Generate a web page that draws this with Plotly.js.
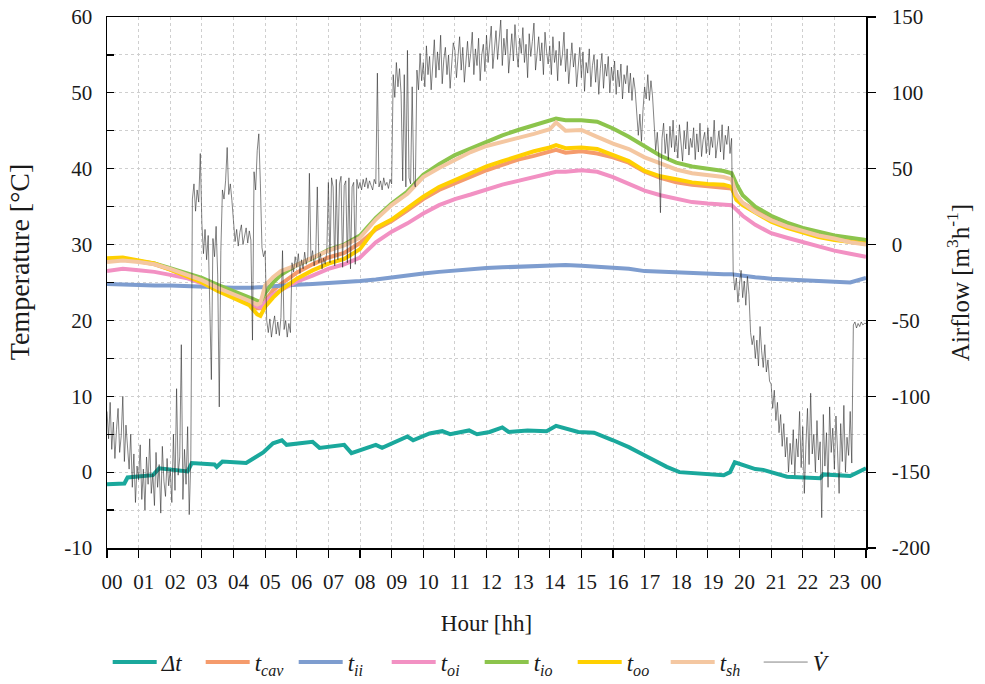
<!DOCTYPE html>
<html>
<head>
<meta charset="utf-8">
<script src="https://cdn.plot.ly/plotly-3.0.1.min.js"></script>
<style>
  html, body { margin: 0; padding: 0; background: #fff; }
  #chart { width: 985px; height: 684px; }
</style>
</head>
<body>
<div id="chart"></div>
<script>
// Time base (hours) shared by the temperature series
const hours = [0,0.5,1,1.5,2,2.5,3,3.5,4,4.5,
  4.75,4.85,5,5.25,5.5,
  6,6.5,7,7.5,8,8.5,9,9.5,10,10.5,11,11.5,12,12.5,13,13.5,14,
  14.2,
  14.5,15,15.5,16,16.5,17,17.5,18,18.5,19,19.5,
  19.75,19.9,20.1,
  20.5,21,21.5,22,22.5,23,23.5,24];

// Temperatures [°C]
const tCav = [28.0,28.1,27.8,27.4,26.7,25.9,25.1,24.1,23.2,22.3,
  21.6,21.6,22.6,24.0,24.8,
  26.3,27.4,28.3,28.9,30.2,32.0,33.1,34.5,36.0,37.2,38.1,39.0,39.8,40.5,41.2,41.7,42.2,
  42.5,
  42.1,42.3,42.0,41.5,40.8,39.6,38.8,38.2,37.9,37.7,37.6,
  37.4,36.3,35.5,
  34.5,33.4,32.6,32.0,31.4,31.0,30.7,30.6];

const tIi = [24.8,24.7,24.7,24.6,24.6,24.5,24.5,24.4,24.3,24.3,
  24.3,24.3,24.4,24.5,24.6,
  24.7,24.8,24.9,25.0,25.2,25.4,25.7,25.9,26.2,26.4,26.6,26.8,26.9,27.0,27.1,27.2,27.3,
  27.3,
  27.3,27.2,27.1,27.0,26.8,26.5,26.4,26.3,26.2,26.2,26.1,
  26.1,26.0,25.9,
  25.7,25.5,25.4,25.4,25.3,25.1,25.0,25.6];

const tOi = [26.5,26.8,26.6,26.4,26.0,25.6,24.9,24.0,23.2,22.3,
  21.8,21.7,22.4,23.4,24.0,
  25.1,25.9,26.8,27.4,28.3,30.3,31.7,32.8,34.1,35.2,36.0,36.6,37.3,37.9,38.4,38.9,39.4,
  39.6,
  39.6,39.8,39.6,38.9,38.0,37.1,36.5,36.0,35.6,35.4,35.3,
  35.2,34.6,33.8,
  32.6,31.5,30.9,30.3,29.8,29.2,28.8,28.4];

const tIo = [27.9,28.0,27.8,27.5,26.9,26.3,25.6,24.7,23.9,23.1,
  22.6,22.4,23.6,25.0,26.0,
  27.3,28.2,29.3,30.0,31.2,33.5,35.4,37.0,39.2,40.6,41.8,42.7,43.6,44.4,45.1,45.7,46.3,
  46.6,
  46.4,46.4,46.2,45.3,44.2,42.9,41.7,40.8,40.3,40.0,39.7,
  39.4,38.0,36.5,
  35.0,33.8,32.9,32.2,31.7,31.2,30.9,30.6];

const tOo = [28.2,28.3,27.9,27.5,26.7,25.8,25.0,23.9,23.0,22.0,
  20.8,20.6,21.8,23.0,24.0,
  25.5,26.6,27.5,28.1,29.4,32.2,33.3,34.8,36.3,37.6,38.5,39.4,40.3,41.0,41.7,42.3,42.8,
  43.1,
  42.7,42.8,42.6,41.8,41.0,39.7,39.0,38.6,38.2,38.0,37.9,
  37.6,35.9,35.2,
  34.2,33.0,32.2,31.6,31.0,30.6,30.3,30.1];

const tSh = [27.7,27.9,27.7,27.4,26.8,26.0,25.3,24.3,23.5,22.6,
  22.1,22.3,24.6,25.7,26.5,
  27.3,28.3,29.2,29.9,30.9,33.3,35.2,36.7,38.9,40.1,41.2,42.2,43.0,43.5,44.0,44.6,45.2,
  46.1,
  45.0,45.1,44.2,43.3,42.6,41.5,40.7,39.9,39.4,39.1,38.9,
  38.6,36.6,35.5,
  34.3,33.2,32.4,31.8,31.2,30.8,30.3,30.0];

// Temperature difference Δt [°C]
const dtHours = [0,0.55,0.65,1.45,1.65,1.9,2.55,2.68,3.4,3.47,
  3.65,4.4,4.62,4.94,5.25,5.53,5.68,6.5,6.72,7.5,
  7.73,8.5,8.7,9.5,9.68,10.2,10.6,10.85,11.45,11.7,
  12.1,12.5,12.7,13.3,13.9,14.2,14.9,15.4,16.0,16.5,
  17.1,17.7,18.1,19.5,19.7,19.85,20.5,20.75,21.5,22.55,
  22.65,23.5,24];
const dtValues = [-1.6,-1.5,-0.7,-0.4,0.5,0.4,0.1,1.2,1.0,0.7,
  1.4,1.2,1.8,2.6,3.8,4.2,3.6,4.0,3.2,3.6,
  2.5,3.6,3.2,4.7,4.2,5.1,5.4,5.0,5.5,5.0,
  5.3,5.9,5.3,5.5,5.4,6.1,5.3,5.2,4.2,3.3,
  2.0,0.7,0.0,-0.4,0.0,1.3,0.4,0.3,-0.6,-0.8,
  -0.3,-0.5,0.5];

// Airflow [m3/h], one reading every 3 minutes (one row per hour)
const airflow = [
  -110,-128,-104,-135,-117,-141,-122,-108,-137,-126,-100,-143,-119,-131,-148,-125,-160,-138,-170,-146,
  -155,-132,-168,-148,-175,-140,-158,-128,-164,-151,-172,-137,-160,-145,-177,-133,-156,-166,-141,-159,
  -148,-170,-125,-162,-95,-152,-140,-66,-168,-135,-158,-120,-178,-142,30,40,22,36,28,60,
  14,-6,10,-10,6,-40,-89,4,-8,12,-20,-107,-4,36,30,42,64,33,40,29,
  12,2,10,-1,8,13,0,7,11,1,9,3,-63,48,36,62,73,40,-2,-8,
  -4,-50,-58,-49,-61,-53,-47,-59,-51,-60,-48,-4,-56,-50,-61,-52,-58,-12,-18,-8,
  -15,-6,-19,-10,-16,-5,-13,-8,47,-11,-4,-14,-7,38,-12,-6,-16,-9,-13,-5,
  41,-12,44,38,-14,43,-10,40,45,-15,39,42,-12,44,-16,38,41,-13,43,37,
  41,36,43,38,44,37,42,39,36,43,40,113,38,42,36,44,39,41,37,43,
  40,112,97,120,104,116,99,42,112,38,128,44,40,104,42,38,115,102,126,108,
  120,104,131,112,124,102,118,135,110,127,115,138,106,122,130,112,125,103,119,133,
  128,110,124,137,115,130,107,121,134,117,126,140,112,129,118,136,108,125,132,114,
  138,120,131,144,116,127,141,122,133,148,118,136,125,142,113,130,139,121,145,128,
  117,136,126,143,120,132,110,139,124,134,146,115,129,137,121,133,112,140,127,119,
  131,112,137,120,128,108,134,118,125,140,114,129,106,123,133,117,126,104,121,130,
  110,127,101,120,113,129,104,118,125,107,122,99,116,126,103,119,111,124,100,117,
  108,121,99,115,104,119,96,112,106,118,100,113,95,110,102,88,72,86,68,89,
  104,96,112,95,108,98,80,62,74,58,21,70,80,60,73,56,78,64,82,61,
  72,57,79,66,55,75,63,81,59,70,64,77,56,73,61,80,58,69,74,60,
  77,59,71,64,82,57,68,75,61,79,56,72,66,78,60,70,-18,-30,-22,-38,
  -26,-17,-35,-24,-40,-21,-33,-58,-66,-60,-75,-63,-80,-54,-70,-81,-66,-84,-76,-90,
  -92,-108,-96,-116,-104,-124,-112,-133,-118,-140,-127,-150,-131,-145,-122,-152,-128,-140,-110,-147,
  -120,-164,-132,-108,-145,-98,-138,-125,-150,-116,-142,-130,-180,-112,-146,-124,-160,-107,-137,-121,
  -148,-113,-136,-164,-118,-143,-106,-150,-127,-139,-110,-144,-53,-51,-55,-52,-54,-51,-53,-52,
  -52];
const airflowHours = airflow.map((_, i) => i / 20);

// Axis ticks and labels
const hourTicks = [0,1,2,3,4,5,6,7,8,9,10,11,12,13,14,15,16,17,18,19,20,21,22,23,24];
const hourLabels = ['00','01','02','03','04','05','06','07','08','09','10','11','12',
                    '13','14','15','16','17','18','19','20','21','22','23','00'];
const tempTicks = [-10,0,10,20,30,40,50,60];
const tempMinorTicks = [-5,5,15,25,35,45,55];
const flowTicks = [-200,-150,-100,-50,0,50,100,150];

const serif = '"Liberation Serif", "Times New Roman", serif';
const gridColor = '#cfcfcf';

function tempTrace(name, y, color) {
  return {x: hours, y: y, name: name, type: 'scatter', mode: 'lines',
          line: {color: color, width: 4}, yaxis: 'y'};
}

const traces = [
  {x: dtHours, y: dtValues, name: '<i>Δt</i>', type: 'scatter', mode: 'lines',
   line: {color: '#1aa89c', width: 4}, yaxis: 'y'},
  tempTrace('<i>t</i><sub><i>cav</i></sub>', tCav, '#f59b6c'),
  tempTrace('<i>t</i><sub><i>ii</i></sub>', tIi, '#7e9dcf'),
  tempTrace('<i>t</i><sub><i>oi</i></sub>', tOi, '#f291c3'),
  tempTrace('<i>t</i><sub><i>io</i></sub>', tIo, '#8cc44c'),
  tempTrace('<i>t</i><sub><i>oo</i></sub>', tOo, '#ffd000'),
  tempTrace('<i>t</i><sub><i>sh</i></sub>', tSh, '#f4c7a1'),
  {x: airflowHours, y: airflow, name: '<i>V̇</i>', type: 'scatter', mode: 'lines',
   line: {color: 'rgba(40,40,40,0.72)', width: 0.8}, yaxis: 'y2'}
];

const layout = {
  width: 985, height: 684,
  margin: {l: 107, r: 119, t: 17, b: 136},
  paper_bgcolor: '#ffffff', plot_bgcolor: '#ffffff',
  font: {family: serif, size: 21, color: '#1a1a1a'},
  showlegend: true,
  legend: {
    orientation: 'h', xref: 'container', yref: 'container',
    x: 0.487, xanchor: 'center', y: 0.032, yanchor: 'middle',
    font: {family: serif, size: 23, color: '#1a1a1a'},
    entrywidth: 34, itemwidth: 44, bgcolor: 'rgba(0,0,0,0)'
  },
  xaxis: {
    range: [0, 24], tickmode: 'array', tickvals: hourTicks, ticktext: hourLabels,
    ticks: 'outside', ticklen: 8, tickcolor: '#000', tickwidth: 1.2,
    showline: true, linecolor: '#000', linewidth: 1.5, mirror: true,
    showgrid: true, gridcolor: gridColor, griddash: 'dot', gridwidth: 1,
    zeroline: false, ticklabelshift: 5, ticklabelstandoff: 6,
    tickfont: {family: serif, size: 21},
    title: {text: 'Hour [hh]', font: {family: serif, size: 23}, standoff: 22}
  },
  yaxis: {
    range: [-10, 60], tickmode: 'array', tickvals: tempTicks, ticktext: tempTicks.map(String),
    ticks: 'inside', ticklen: 7, tickcolor: '#000', tickwidth: 1.2,
    showline: true, linecolor: '#000', linewidth: 1.5,
    showgrid: true, gridcolor: gridColor, griddash: 'dot', gridwidth: 1,
    minor: {tickmode: 'array', tickvals: tempMinorTicks, ticks: 'inside', ticklen: 7,
            tickcolor: '#000', showgrid: true, gridcolor: gridColor, griddash: 'dot', gridwidth: 1},
    zeroline: false, ticklabelstandoff: 9,
    tickfont: {family: serif, size: 21}
  },
  yaxis2: {
    overlaying: 'y', side: 'right', range: [-200, 150],
    tickmode: 'array', tickvals: flowTicks, ticktext: flowTicks.map(String),
    ticks: 'outside', ticklen: 8, tickcolor: '#000', tickwidth: 1.2,
    showline: true, linecolor: '#000', linewidth: 1.5,
    showgrid: false, zeroline: false, ticklabelstandoff: 12,
    tickfont: {family: serif, size: 21},
    title: {text: 'Airflow [m<sup>3</sup>h<sup>-1</sup>]', font: {family: serif, size: 25}, standoff: 22}
  },
  // Left axis title, placed a little above the plot's mid-height
  annotations: [{
    text: 'Temperature [°C]', textangle: -90, showarrow: false,
    xref: 'paper', yref: 'paper', x: -0.116, y: 0.54,
    xanchor: 'center', yanchor: 'middle',
    font: {family: serif, size: 28, color: '#1a1a1a'}
  }]
};

Plotly.newPlot('chart', traces, layout, {staticPlot: true, displayModeBar: false});
</script>
</body>
</html>
